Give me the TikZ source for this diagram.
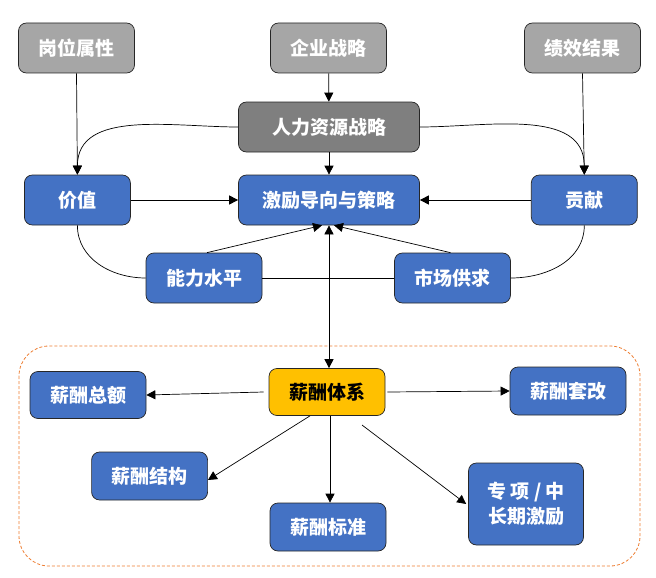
\documentclass[tikz,border=0pt]{standalone}
\usepackage{fontspec}
\setmainfont{Noto Sans CJK SC}
\usetikzlibrary{arrows.meta}
\definecolor{gbox}{HTML}{A6A6A6}
\definecolor{dbox}{HTML}{7F7F7F}
\definecolor{bbox}{HTML}{4472C4}
\definecolor{ybox}{HTML}{FFC000}
\definecolor{obrd}{HTML}{ED7D31}
\begin{document}
\begin{tikzpicture}[x=1pt,y=-1pt,
  box/.style={draw=black!85, line width=0.7pt, rounded corners=8pt, minimum width=116pt, minimum height=50pt,
    text=white, font=\fontsize{19}{25}\selectfont\bfseries, align=center, inner sep=2pt},
  graybox/.style={box, fill=gbox},
  darkbox/.style={box, fill=dbox, minimum width=181pt},
  bluebox/.style={box, fill=bbox},
  yellowbox/.style={box, fill=ybox, text=black, minimum height=47pt},
  arr/.style={draw=black, line width=0.7pt, -{Triangle[length=9pt,width=9pt]}},
  darr/.style={draw=black, line width=0.7pt, {Triangle[length=9pt,width=9pt]}-{Triangle[length=9pt,width=9pt]}},
  ln/.style={draw=black, line width=0.7pt},
  group/.style={draw=obrd, dashed, dash pattern=on 3pt off 2pt, line width=0.8pt, rounded corners=30pt}
]
\useasboundingbox (0,0) rectangle (656,578);
% group frame
\draw[group] (19,346) rectangle (640,566);

% top row
\node[graybox] (gw) at (76.5,48) {岗位属性};
\node[graybox] (qy) at (328.5,48) {企业战略};
\node[graybox] (jx) at (582.5,48) {绩效结果};
\node[darkbox] (hr) at (329,127) {人力资源战略};

% middle
\node[bluebox, minimum width=106pt] (jz) at (77.4,200) {价值};
\node[bluebox, minimum width=181pt] (jl) at (329,200) {激励导向与策略};
\node[bluebox, minimum width=106pt] (gx) at (584.3,200) {贡献};
\node[bluebox] (nl) at (204,278) {能力水平};
\node[bluebox] (sc) at (452.5,278) {市场供求};

% bottom
\node[yellowbox] (sys) at (327,392) {薪酬体系};
\node[bluebox, minimum height=47pt] (ze) at (88,395) {薪酬总额};
\node[bluebox, minimum height=48pt] (tg) at (568,391) {薪酬套改};
\node[bluebox, minimum height=48pt] (jg) at (149.6,476) {薪酬结构};
\node[bluebox, minimum height=48pt] (bz) at (328,527) {薪酬标准};
\node[bluebox, minimum width=115pt, minimum height=82pt] (zx) at (526,504) {专 项 / 中\\长期激励};

% top connectors
\draw[arr] (qy) -- (hr);
\draw[arr] (gw.south) -- (jz.north);
\draw[arr] (jx.south) -- (gx.north);
\draw[arr] (hr) -- (jl);
\draw[arr] (hr.west) to[out=180,in=90] (jz.north);
\draw[arr] (hr.east) to[out=0,in=90] (gx.north);

% middle connectors
\draw[arr] (jz) -- (jl);
\draw[arr] (gx) -- (jl);
\draw[arr] ([xshift=3pt]nl.north) -- ([xshift=-7pt]jl.south);
\draw[arr] ([xshift=-2pt]sc.north) -- ([xshift=5pt]jl.south);
\draw[ln] (nl.east) -- (sc.west);
\draw[ln] (jz.south) to[out=-90,in=180] (nl.west);
\draw[ln] (gx.south) to[out=-90,in=0] (sc.east);
\draw[darr] (jl.south) -- (jl.south |- sys.north);

% bottom connectors
\coordinate (s5) at (362,425);
\draw[arr] ([xshift=-5pt]sys.west) -- (ze.east);
\draw[arr] ([xshift=2pt]sys.east) -- (tg.west);
\draw[arr] ([xshift=-17pt]sys.south) -- ([yshift=-4pt]jg.east);
\draw[arr] ([xshift=3pt]sys.south) -- ([xshift=2pt]bz.north);
\draw[arr] (s5) -- ([xshift=-2pt]zx.west);
\end{tikzpicture}
\end{document}
